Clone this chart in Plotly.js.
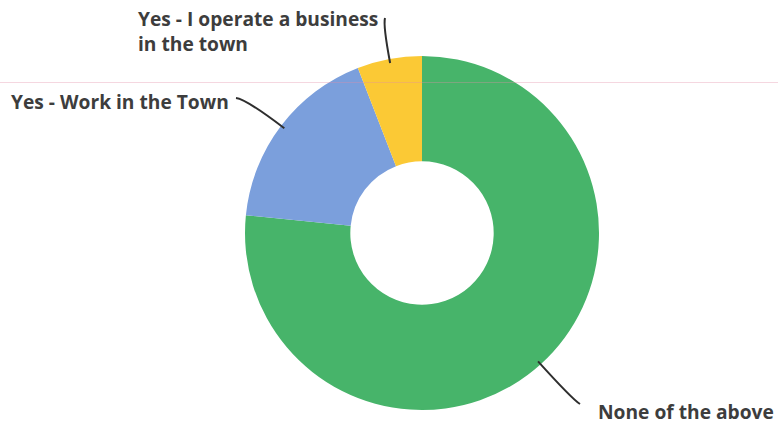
<!DOCTYPE html>
<html>
<head>
<meta charset="utf-8">
<script src="https://cdn.plot.ly/plotly-3.0.1.min.js"></script>
<style>html,body{margin:0;padding:0;background:#fff;}#chart{width:778px;height:428px;}</style>
</head>
<body>
<div id="chart"></div>
<script>
// Data (percent of respondents)
const categories = ["None of the above", "Yes - Work in the Town", "Yes - I operate a business<br>in the town"];
const values = [76.6, 17.5, 5.9];
const colors = ["#47b46a", "#7b9fdc", "#fbc935"];

const W = 778, H = 428;
const cx = 422, cy = 233, R = 177;
const px = x => x / W, py = y => 1 - y / H;

// label positions (layout) and leader-line end points
const labelPos = [
  {x: 596, y: 411, xanchor: "left", end: [580, 404]},
  {x: 9, y: 102, xanchor: "left", end: [236, 98]},
  {x: 136, y: 31, xanchor: "left", end: [385, 18]}
];

// compute mid angle of each slice (clockwise from 12 o'clock)
const total = values.reduce((a, b) => a + b, 0);
let acc = 0;
const shapes = [];
const annotations = [];
values.forEach((v, i) => {
  const mid = (acc + v / 2) / total * 2 * Math.PI;
  acc += v;
  const r0 = R - 4;
  const sx = cx + r0 * Math.sin(mid), sy = cy - r0 * Math.cos(mid);
  const lp = labelPos[i];
  const [ex, ey] = lp.end;
  const dist = Math.hypot(ex - sx, ey - sy);
  const kx = sx + 0.85 * dist * Math.sin(mid), ky = sy - 0.85 * dist * Math.cos(mid);
  shapes.push({
    type: "path", xref: "paper", yref: "paper",
    path: `M ${px(sx)} ${py(sy)} Q ${px(kx)} ${py(ky)} ${px(ex)} ${py(ey)}`,
    line: {color: "#2e2e2e", width: 2}
  });
  annotations.push({
    xref: "paper", yref: "paper", x: px(lp.x), y: py(lp.y),
    xanchor: lp.xanchor, yanchor: "middle", align: "left",
    text: categories[i], showarrow: false,
    font: {family: "Open Sans, sans-serif", size: 19.2, color: "#3d3d3d", weight: 700}
  });
});

// faint scan line
shapes.push({type: "line", xref: "paper", yref: "paper", x0: 0, x1: 1, y0: py(82.5), y1: py(82.5),
  line: {color: "rgba(225,140,165,0.35)", width: 1}, layer: "above"});

const trace = {
  type: "pie",
  labels: categories,
  values: values,
  marker: {colors: colors, line: {width: 0}},
  hole: 0.405,
  sort: false,
  direction: "clockwise",
  rotation: 0,
  textinfo: "none",
  hoverinfo: "label+percent",
  domain: {x: [px(cx - R), px(cx + R)], y: [py(cy + R), py(cy - R)]}
};

Plotly.newPlot("chart", [trace], {
  width: W, height: H,
  margin: {l: 0, r: 0, t: 0, b: 0},
  paper_bgcolor: "#fff",
  showlegend: false,
  shapes: shapes,
  annotations: annotations
}, {staticPlot: true});
</script>
</body>
</html>
